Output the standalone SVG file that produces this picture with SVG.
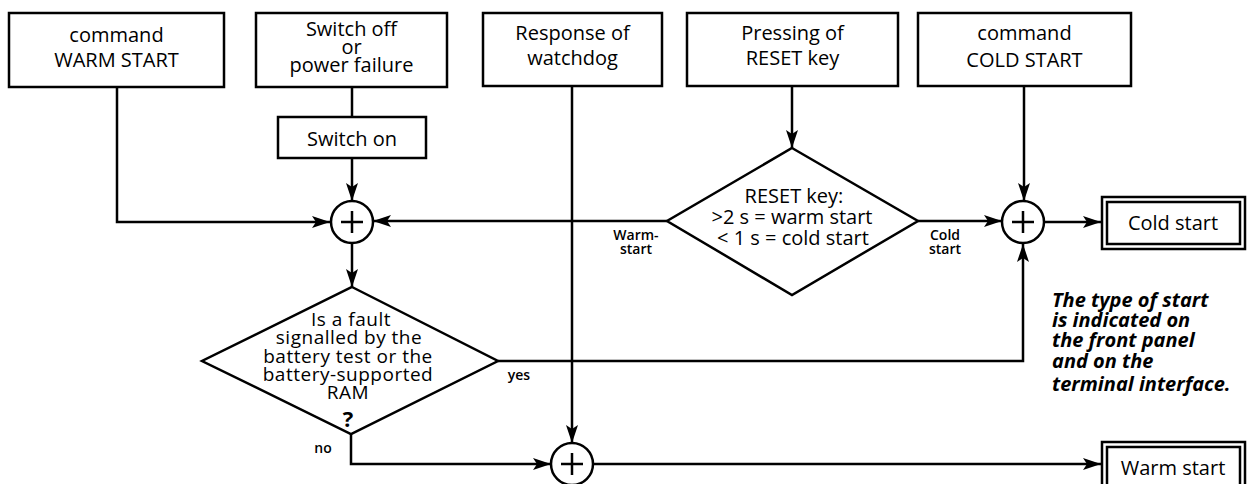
<svg xmlns="http://www.w3.org/2000/svg" width="1247" height="484" viewBox="0 0 1247 484">
<style>
.b{fill:#fff;stroke:#000;stroke-width:2.5}
.t{font-family:"Open Sans","Liberation Sans",sans-serif;font-size:20px;font-weight:500;fill:#000;text-anchor:middle}
.d{font-family:"Open Sans","Liberation Sans",sans-serif;font-size:19px;font-weight:500;letter-spacing:0.5px;fill:#000;text-anchor:middle}
.q{font-family:"Open Sans","Liberation Sans",sans-serif;font-size:22px;font-weight:700;fill:#000;text-anchor:middle}
.s{font-family:"Open Sans","Liberation Sans",sans-serif;font-size:14px;font-weight:600;fill:#000;text-anchor:middle}
.i{font-family:"Open Sans","Liberation Sans",sans-serif;font-size:20px;font-weight:700;font-style:italic;fill:#000}
.c{fill:none;stroke:#000;stroke-width:2.5}
.l{fill:none;stroke:#000;stroke-width:2.5;marker-end:url(#a)}
</style>
<defs>
<marker id="a" viewBox="0 0 18 12" refX="18" refY="6" markerWidth="18" markerHeight="12" orient="auto" markerUnits="userSpaceOnUse">
<path d="M0,0 L18,6 L0,12 L4,6 Z" fill="#000"/>
</marker>
</defs>
<rect width="1247" height="484" fill="#fff"/>
<g id="connectors">
<path class="l" d="M117,87 V222 H330"/>
<path class="c" d="M352,87 V117"/>
<path class="l" d="M352,158 V201"/>
<path class="l" d="M352,243 V287"/>
<path class="l" d="M667,221 H373"/>
<path class="l" d="M792,86 V148"/>
<path class="l" d="M918,221 H1002"/>
<path class="l" d="M1024,86 V201"/>
<path class="l" d="M1045,222 H1101"/>
<path class="l" d="M498,361 H1023 V244"/>
<path class="l" d="M572,86 V443"/>
<path class="l" d="M351,434 V464 H551"/>
<path class="l" d="M593,464 H1101"/>
<text class="s" x="636" y="240">Warm-</text>
<text class="s" x="636" y="254">start</text>
<text class="s" x="945" y="240">Cold</text>
<text class="s" x="945" y="254">start</text>
<text class="s" x="519" y="380">yes</text>
<text class="s" x="323" y="453">no</text>
</g>
<g id="warm-cmd">
<rect class="b" x="9" y="13" width="215" height="74"/>
<text class="t" x="116.5" y="42">command</text>
<text class="t" x="116.5" y="67">WARM START</text>
</g>
<g id="switch-off">
<rect class="b" x="256" y="13" width="191" height="74"/>
<text class="t" x="351.5" y="36">Switch off</text>
<text class="t" x="351.5" y="54">or</text>
<text class="t" x="351.5" y="72">power failure</text>
</g>
<g id="switch-on">
<rect class="b" x="278" y="117" width="148" height="41"/>
<text class="t" x="352" y="146">Switch on</text>
</g>
<g id="watchdog">
<rect class="b" x="483" y="13" width="179" height="73"/>
<text class="t" x="572.5" y="40">Response of</text>
<text class="t" x="572.5" y="65">watchdog</text>
</g>
<g id="reset-key">
<rect class="b" x="687" y="13" width="211" height="73"/>
<text class="t" x="792.5" y="40">Pressing of</text>
<text class="t" x="792.5" y="65">RESET  key</text>
</g>
<g id="cold-cmd">
<rect class="b" x="918" y="13" width="213" height="73"/>
<text class="t" x="1024.5" y="40">command</text>
<text class="t" x="1024.5" y="67">COLD START</text>
</g>
<g id="sum1">
<circle class="b" cx="352" cy="222" r="21"/>
<path class="c" d="M341,222 H363 M352,211 V233"/>
</g>
<g id="sum2">
<circle class="b" cx="572" cy="464" r="21"/>
<path class="c" d="M561,464 H583 M572,453 V475"/>
</g>
<g id="sum3">
<circle class="b" cx="1023" cy="222" r="21"/>
<path class="c" d="M1012,222 H1034 M1023,211 V233"/>
</g>
<g id="reset-decision">
<polygon class="b" points="792,148 918,221 792,295 667,221"/>
<text class="t" x="794" y="203">RESET key:</text>
<text class="t" x="792" y="224">&gt;2 s = warm start</text>
<text class="t" x="793" y="245">&lt; 1 s  = cold start</text>
</g>
<g id="fault-decision">
<polygon class="b" points="352,287 498,361 351,434 202,361"/>
<text class="d" x="351" y="326">Is a fault</text>
<text class="d" x="349" y="344">signalled by the</text>
<text class="d" x="348" y="363">battery test or the</text>
<text class="d" x="348" y="381">battery-supported</text>
<text class="d" x="348" y="399">RAM</text>
<text class="q" x="348" y="427">?</text>
</g>
<g id="cold-start">
<rect class="b" x="1102" y="197" width="143" height="52"/>
<rect class="b" x="1107" y="202" width="133" height="42"/>
<text class="t" x="1173" y="230">Cold start</text>
</g>
<g id="warm-start">
<rect class="b" x="1102" y="442" width="143" height="52"/>
<rect class="b" x="1107" y="447" width="133" height="42"/>
<text class="t" x="1173" y="475">Warm start</text>
</g>
<g id="note">
<text class="i" x="1052" y="307">The type of start</text>
<text class="i" x="1052" y="327">is indicated on</text>
<text class="i" x="1052" y="347">the front panel</text>
<text class="i" x="1052" y="368">and on the</text>
<text class="i" x="1052" y="391">terminal interface.</text>
</g>
</svg>
